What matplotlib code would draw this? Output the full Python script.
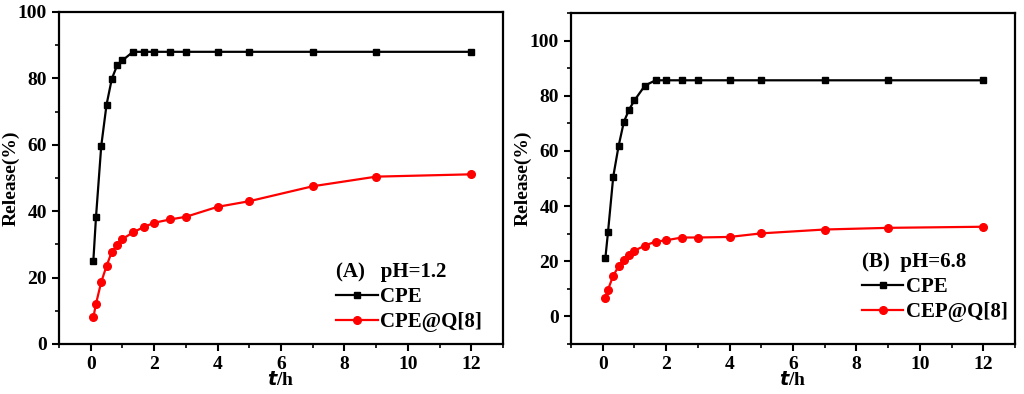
import matplotlib.pyplot as plt
from matplotlib.ticker import MultipleLocator

plt.rcParams['font.family'] = ['Liberation Serif', 'DejaVu Serif']
plt.rcParams['font.weight'] = 'bold'

# time points (h)
t = [0.083, 0.167, 0.333, 0.5, 0.667, 0.833, 1, 1.333, 1.667, 2, 2.5, 3, 4, 5, 7, 9, 12]

# (A) pH=1.2
cpe_a = [25.0, 38.2, 59.7, 72.1, 79.9, 83.9, 85.4, 88.0, 88.0, 88.0, 88.0, 88.0, 88.0, 88.0, 88.0, 88.0, 88.0]
q8_a = [8.0, 12.1, 18.7, 23.5, 27.8, 29.8, 31.6, 33.6, 35.2, 36.5, 37.5, 38.3, 41.3, 43.0, 47.5, 50.4, 51.1]

# (B) pH=6.8
cpe_b = [21.0, 30.5, 50.7, 61.7, 70.5, 75.0, 78.3, 83.7, 85.6, 85.6, 85.6, 85.6, 85.6, 85.6, 85.6, 85.6, 85.6]
q8_b = [6.5, 9.7, 14.8, 18.1, 20.6, 22.4, 23.8, 25.7, 27.1, 27.6, 28.6, 28.6, 28.8, 30.1, 31.5, 32.1, 32.5]

fig = plt.figure(figsize=(10.24, 3.94), dpi=100)
ax1 = fig.add_axes([0.0576, 0.127, 0.4336, 0.8426])
ax2 = fig.add_axes([0.5576, 0.127, 0.4336, 0.840])

panels = [
    (ax1, cpe_a, q8_a, "CPE@Q[8]", "(A)   pH=1.2", (0, 100), (0.625, 0.035)),
    (ax2, cpe_b, q8_b, "CEP@Q[8]", "(B)  pH=6.8", (-10, 110), (0.655, 0.065)),
]

for ax, cpe, q8, lab2, title, ylim, anchor in panels:
    ax.plot(t, cpe, color='black', marker='s', markersize=5, linewidth=1.6, label="CPE")
    ax.plot(t, q8, color='red', marker='o', markersize=5.5, linewidth=1.6, label=lab2)
    ax.set_xlim(-1, 13)
    ax.set_ylim(*ylim)
    ax.xaxis.set_major_locator(MultipleLocator(2))
    ax.xaxis.set_minor_locator(MultipleLocator(1))
    ax.yaxis.set_major_locator(MultipleLocator(20))
    ax.yaxis.set_minor_locator(MultipleLocator(10))
    ax.tick_params(which='major', direction='out', length=5, width=1.5, labelsize=14)
    ax.tick_params(which='minor', direction='out', length=3, width=1.2)
    for s in ax.spines.values():
        s.set_linewidth(1.6)
    for lbl in ax.get_xticklabels() + ax.get_yticklabels():
        lbl.set_fontweight('bold')
    ax.set_xlabel(r"$\boldsymbol{t}$/h", fontsize=14, fontweight='bold', labelpad=-1)
    ax.set_ylabel("Release(%)", fontsize=14, fontweight='bold')
    ax.yaxis.set_label_coords(-0.088, 0.5)
    leg = ax.legend(loc='lower left', bbox_to_anchor=anchor, frameon=False,
                    title=title, fontsize=15, handlelength=2.0, handletextpad=0.1,
                    labelspacing=0.25, borderaxespad=0, borderpad=0)
    leg.get_title().set_fontweight('bold')
    leg.get_title().set_fontsize(15)
    leg._legend_box.align = 'left'

fig.savefig("out.png", dpi=100)
